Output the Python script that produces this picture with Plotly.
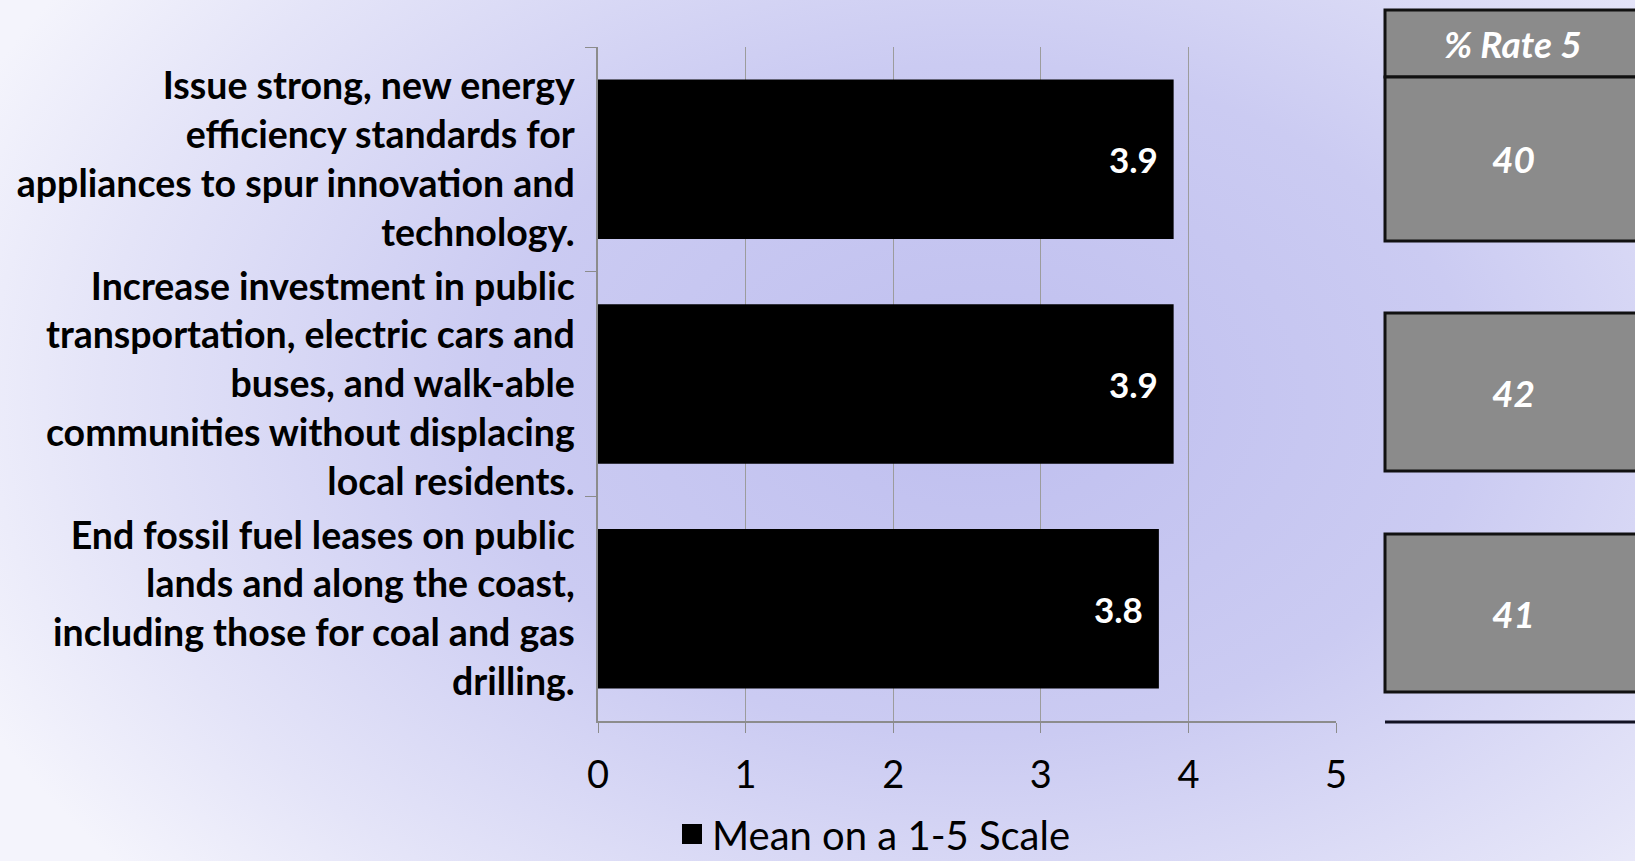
import base64
import plotly.graph_objects as go

# ---------------- data ----------------
categories = [
    "Issue strong, new energy<br>efficiency standards for<br>appliances to spur innovation and<br>technology.",
    "Increase investment in public<br>transportation, electric cars and<br>buses, and walk-able<br>communities without displacing<br>local residents.",
    "End fossil fuel leases on public<br>lands and along the coast,<br>including those for coal and gas<br>drilling.",
]
mean_values = [3.9, 3.9, 3.8]
pct_rate5 = [40, 42, 41]
table_header = "% Rate 5"
series_name = "Mean on a 1-5 Scale"
x_ticks = [0, 1, 2, 3, 4, 5]

# ---------------- layout geometry ----------------
W, H = 1635, 861
ML, MR, MT, MB = 598, 299, 47, 140
PW, PH = W - ML - MR, H - MT - MB


def px_x(p):
    return (p - ML) / PW


def px_y(p):
    return (H - MB - p) / PH


FONT = "Lato"

# background gradient as an SVG image
svg = f'''<svg xmlns="http://www.w3.org/2000/svg" width="{W}" height="{H}" viewBox="0 0 {W} {H}" preserveAspectRatio="none">
<defs><radialGradient id="g" gradientUnits="userSpaceOnUse" cx="980" cy="400" r="1100" gradientTransform="translate(980 400) scale(1 0.68) translate(-980 -400)">
<stop offset="0" stop-color="#bfbfef"/><stop offset="0.45" stop-color="#cbcbf2"/><stop offset="0.8" stop-color="#e4e4f8"/><stop offset="1" stop-color="#f4f4fc"/>
</radialGradient></defs>
<rect x="0" y="0" width="{W}" height="{H}" fill="url(#g)"/></svg>'''
svg_uri = "data:image/svg+xml;base64," + base64.b64encode(svg.encode()).decode()

fig = go.Figure()
fig.add_trace(go.Bar(
    x=mean_values,
    y=categories,
    orientation="h",
    name=series_name,
    marker=dict(color="#000000", line=dict(width=0)),
    showlegend=False,
    legendgroup="mean",
    hoverinfo="x+y",
))
# legend entry with a larger square swatch
fig.add_trace(go.Scatter(
    x=[None], y=[None], mode="markers", name=series_name, legendgroup="mean",
    marker=dict(symbol="square", size=16, color="#000000",
                line=dict(color="#000000", width=4)),
    showlegend=True, hoverinfo="skip",
))

# value labels inside bar ends
for cat, v in zip(categories, mean_values):
    fig.add_annotation(
        x=v, y=cat, xref="x", yref="y",
        text=f"{v:.1f}", showarrow=False,
        xanchor="right", yanchor="middle", xshift=-14,
        font=dict(family=FONT, size=35, color="white", weight="bold"),
    )

shapes = []
annotations = []
gray = "#8b8b8b"
bx0, bx1 = px_x(1385), px_x(1642)
# header
shapes.append(dict(type="rect", xref="paper", yref="paper", x0=bx0, x1=bx1,
                   y0=px_y(77), y1=px_y(10), fillcolor=gray,
                   line=dict(color="#111111", width=3), layer="above"))
annotations.append(dict(xref="paper", yref="paper", x=px_x(1513), y=px_y(44),
                        xanchor="center", yanchor="middle",
                        text=f"<i>{table_header}</i>", showarrow=False,
                        font=dict(family=FONT, size=37, color="white", weight="bold")))
box_px = [(77, 241), (313, 471), (534, 692)]
for (t, b), val in zip(box_px, pct_rate5):
    shapes.append(dict(type="rect", xref="paper", yref="paper", x0=bx0, x1=bx1,
                       y0=px_y(b), y1=px_y(t), fillcolor=gray,
                       line=dict(color="#111111", width=3), layer="above"))
    annotations.append(dict(xref="paper", yref="paper", x=px_x(1513), y=px_y((t + b) / 2),
                            xanchor="center", yanchor="middle",
                            text=f"<i>{val}</i>", showarrow=False,
                            font=dict(family=FONT, size=37, color="white", weight="bold")))
shapes.append(dict(type="line", xref="paper", yref="paper", x0=bx0, x1=bx1,
                   y0=px_y(722), y1=px_y(722), line=dict(color="#111122", width=3)))

fig.update_layout(
    width=W, height=H,
    margin=dict(l=ML, r=MR, t=MT, b=MB, pad=0, autoexpand=False),
    paper_bgcolor="#e6e6f8",
    plot_bgcolor="rgba(0,0,0,0)",
    bargap=0.29,
    font=dict(family=FONT, color="black"),
    images=[dict(source=svg_uri, xref="paper", yref="paper",
                 x=px_x(0), y=px_y(0), sizex=W / PW, sizey=H / PH,
                 xanchor="left", yanchor="top", sizing="stretch", layer="below")],
    shapes=shapes,
    annotations=list(fig.layout.annotations) + annotations,
    legend=dict(orientation="h", x=px_x(672), y=px_y(834), xanchor="left", yanchor="middle",
                font=dict(family=FONT, size=40, color="black"),
                bgcolor="rgba(0,0,0,0)", itemsizing="trace"),
    showlegend=True,
)
fig.update_xaxes(
    range=[0, 5], tickvals=x_ticks, ticktext=[str(t) for t in x_ticks],
    showgrid=True, gridcolor="#9c9c9c", gridwidth=1,
    showline=True, linecolor="#8c8c8c", linewidth=1.5,
    ticks="outside", ticklen=10, tickcolor="#8c8c8c",
    tickfont=dict(family=FONT, size=38, color="black"),
    ticklabelstandoff=10,
    zeroline=False, fixedrange=True, automargin=False,
)
fig.update_yaxes(
    categoryorder="array", categoryarray=categories, autorange="reversed",
    showline=True, linecolor="#8c8c8c", linewidth=1.5,
    ticks="outside", tickson="boundaries", ticklen=11, tickcolor="#8c8c8c",
    tickfont=dict(family=FONT, size=37.5, color="black", weight="bold"),
    ticklabelstandoff=14,
    showgrid=False, fixedrange=True, automargin=False,
)

fig.write_html(
    "out.html",
    config={"displayModeBar": False},
    post_script="document.body.style.margin='0';document.body.style.overflow='hidden';",
)
